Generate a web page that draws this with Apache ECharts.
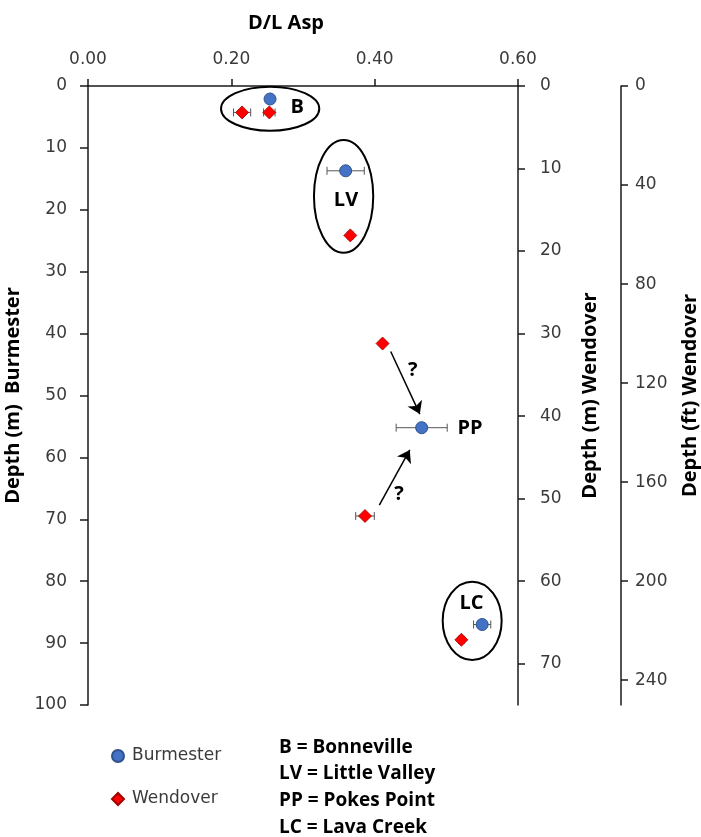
<!DOCTYPE html>
<html><head><meta charset="utf-8">
<script src="https://cdn.jsdelivr.net/npm/echarts@6/dist/echarts.min.js"></script>
<style>html,body{margin:0;padding:0;background:#fff}#c{width:701px;height:837px}</style>
</head><body><div id="c"></div>
<script>
// ---- data ----
const burmesterDL    = [0.254, 0.3595, 0.4656, 0.550];
const burmesterDepth = [2.1, 13.7, 55.2, 87.0];      // m, Burmester axis
const burmesterErr   = [0, 0.026, 0.0356, 0.012];

const wendoverDL    = [0.215, 0.253, 0.366, 0.411, 0.3865, 0.521];
const wendoverDepth = [3.2, 3.2, 18.1, 31.2, 52.1, 67.1]; // m, Wendover axis
const wendoverErr   = [0.012, 0.008, 0.004, 0.003, 0.013, 0.004];

const mTicks  = [0, 10, 20, 30, 40, 50, 60, 70];
const ftTicks = [0, 40, 80, 120, 160, 200, 240];

// annotation groups (D/L, Burmester depth)
const groupNames  = ['B', 'LV', 'PP', 'LC'];
const groupLabelX = [0.292, 0.360, 0.533, 0.535];
const groupLabelY = [3.5, 18.5, 55.3, 83.5];
const ellipseBox  = { // [xmin, xmax, ymin, ymax]
  B:  [0.1856, 0.3227, 0.11, 7.22],
  LV: [0.3153, 0.3980, 8.72, 26.93],
  LC: [0.4949, 0.5772, 80.08, 92.73]
};
const arrows = [ [[0.4224, 42.9], [0.4630, 53.0]], [[0.4065, 67.7], [0.4490, 58.8]] ];
const questionPos = [[0.453, 46.0], [0.434, 65.9]];
const keyLines = ['B = Bonneville', 'LV = Little Valley', 'PP = Pokes Point', 'LC = Lava Creek'];

// ---- chart ----
const tickFont = {fontFamily: 'DejaVu Sans', fontSize: 17, color: '#3a3a3a'};
const boldName = {fontFamily: 'Open Sans', fontWeight: 'bold', fontSize: 20, color: '#000'};
const lineStyle = {color: '#1a1a1a', width: 1.5};

function errSeries(name, yAxisIndex, xs, ys, es) {
  return {
    type: 'custom', name: name, xAxisIndex: 0, yAxisIndex: yAxisIndex, silent: true, z: 1,
    data: xs.map((x, i) => [x, ys[i], es[i]]),
    encode: {x: 0, y: 1},
    renderItem(params, api) {
      const x = api.value(0), y = api.value(1), e = api.value(2);
      if (!e) return {type: 'group', children: []};
      const a = api.coord([x - e, y]), b = api.coord([x + e, y]);
      const h = 4, st = {stroke: '#555', lineWidth: 1};
      return {type: 'group', children: [
        {type: 'line', shape: {x1: a[0], y1: a[1], x2: b[0], y2: b[1]}, style: st},
        {type: 'line', shape: {x1: a[0], y1: a[1] - h, x2: a[0], y2: a[1] + h}, style: st},
        {type: 'line', shape: {x1: b[0], y1: b[1] - h, x2: b[0], y2: b[1] + h}, style: st}
      ]};
    }
  };
}

const chart = echarts.init(document.getElementById('c'), null, {renderer: 'canvas'});
chart.setOption({
  animation: false,
  backgroundColor: '#fff',
  title: {text: 'D/L Asp', left: 281, top: 8, textAlign: 'center',
    textStyle: {fontFamily: 'Open Sans', fontWeight: 'bold', fontSize: 20, color: '#000'}},
  grid: {left: 88, top: 86, width: 430, height: 619, containLabel: false, outerBoundsMode: 'none'},
  legend: {
    orient: 'vertical', left: 106, top: 741, itemGap: 23, itemWidth: 12, itemHeight: 12,
    data: ['Burmester', 'Wendover'],
    textStyle: {fontFamily: 'DejaVu Sans', fontSize: 17, color: '#3a3a3a', lineHeight: 20, padding: [0, 0, 0, 3]}
  },
  xAxis: {
    type: 'value', position: 'top', min: 0, max: 0.6, interval: 0.2,
    axisLine: {show: true, onZero: false, lineStyle: lineStyle},
    axisTick: {show: true, length: 7, lineStyle: lineStyle},
    splitLine: {show: false},
    axisLabel: Object.assign({margin: 18, formatter: v => v.toFixed(2)}, tickFont)
  },
  yAxis: [
    {
      type: 'value', position: 'left', inverse: true, min: 0, max: 100, interval: 10,
      name: 'Depth (m)  Burmester', nameLocation: 'middle', nameGap: 52, nameTextStyle: boldName,
      axisLine: {show: true, onZero: false, lineStyle: lineStyle},
      axisTick: {show: true, length: 8, lineStyle: lineStyle},
      splitLine: {show: false},
      axisLabel: Object.assign({margin: 21}, tickFont)
    },
    {
      type: 'value', position: 'right', inverse: true, min: 0, max: 75,
      name: 'Depth (m) Wendover', nameLocation: 'middle', nameGap: 62, nameTextStyle: boldName,
      axisLine: {show: true, onZero: false, lineStyle: lineStyle},
      axisTick: {show: true, length: 7, lineStyle: lineStyle, customValues: mTicks},
      splitLine: {show: false},
      axisLabel: Object.assign({margin: 22, customValues: mTicks}, tickFont)
    },
    {
      type: 'value', position: 'right', offset: 103, inverse: true, min: 0, max: 250,
      name: 'Depth (ft) Wendover', nameLocation: 'middle', nameGap: 59, nameTextStyle: boldName,
      axisLine: {show: true, onZero: false, lineStyle: lineStyle},
      axisTick: {show: true, length: 7, lineStyle: lineStyle, customValues: ftTicks},
      splitLine: {show: false},
      axisLabel: Object.assign({margin: 14, customValues: ftTicks}, tickFont)
    }
  ],
  series: [
    errSeries('BurmesterErr', 0, burmesterDL, burmesterDepth, burmesterErr),
    errSeries('WendoverErr', 1, wendoverDL, wendoverDepth, wendoverErr),
    {
      type: 'scatter', name: 'Burmester', xAxisIndex: 0, yAxisIndex: 0, z: 3,
      symbol: 'circle', symbolSize: 12,
      itemStyle: {color: '#4472C4', borderColor: '#2F528F', borderWidth: 1, opacity: 1},
      data: burmesterDL.map((x, i) => [x, burmesterDepth[i]]),
      markLine: {
        silent: true, symbol: ['none', 'arrow'], symbolSize: 12,
        label: {show: false},
        lineStyle: {color: '#000', width: 1.5, type: 'solid'},
        data: arrows.map(a => [{coord: a[0]}, {coord: a[1]}])
      }
    },
    {
      type: 'scatter', name: 'Wendover', xAxisIndex: 0, yAxisIndex: 1, z: 3,
      symbol: 'diamond', symbolSize: 13,
      itemStyle: {color: '#FF0000', borderColor: '#A00000', borderWidth: 0.8, opacity: 1},
      data: wendoverDL.map((x, i) => [x, wendoverDepth[i]])
    }
  ]
});

// annotations anchored to data coordinates
function px(p) { return chart.convertToPixel({xAxisIndex: 0, yAxisIndex: 0}, p); }
const g = [];
Object.keys(ellipseBox).forEach(k => {
  const b = ellipseBox[k];
  const p1 = px([b[0], b[2]]), p2 = px([b[1], b[3]]);
  g.push({type: 'ellipse', silent: true, z: 2,
    shape: {cx: (p1[0] + p2[0]) / 2, cy: (p1[1] + p2[1]) / 2,
            rx: Math.abs(p2[0] - p1[0]) / 2, ry: Math.abs(p2[1] - p1[1]) / 2},
    style: {fill: 'none', stroke: '#000', lineWidth: 2}});
});
groupNames.forEach((n, i) => {
  const p = px([groupLabelX[i], groupLabelY[i]]);
  g.push({type: 'text', silent: true, z: 4, x: p[0], y: p[1],
    style: {text: n, align: 'center', verticalAlign: 'middle',
      font: 'bold 20px "Open Sans"', fill: '#000'}});
});
questionPos.forEach(q => {
  const p = px(q);
  g.push({type: 'text', silent: true, z: 4, x: p[0], y: p[1],
    style: {text: '?', align: 'center', verticalAlign: 'middle',
      font: 'bold 20px "Open Sans"', fill: '#000'}});
});
g.push({type: 'text', silent: true, left: 279, top: 734,
  style: {text: keyLines.join('\n'), font: 'bold 19px "Open Sans"', lineHeight: 26.7, fill: '#000'}});
chart.setOption({graphic: g});
</script>
</body></html>
